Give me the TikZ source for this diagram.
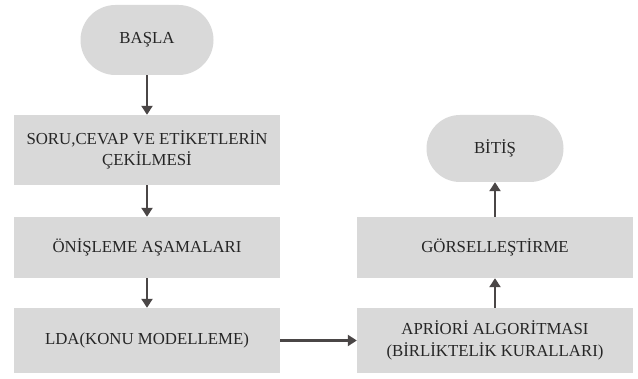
\documentclass[tikz,border=0pt]{standalone}
\usepackage{fontspec}
\setmainfont{Liberation Serif}
\usetikzlibrary{arrows.meta}
\definecolor{boxfill}{HTML}{D9D9D9}
\definecolor{linecol}{HTML}{4A4646}
\definecolor{txtcol}{HTML}{262626}
\begin{document}
\begin{tikzpicture}[x=1pt,y=1pt,
  proc/.style={fill=boxfill,draw=none,minimum width=266pt,inner sep=0pt,align=center,
    text=txtcol,font=\fontsize{16.8}{21.5}\selectfont},
  term/.style={fill=boxfill,draw=none,inner sep=0pt,align=center,
    text=txtcol,font=\fontsize{16.8}{21.5}\selectfont},
  conn/.style={draw=linecol,line width=2.6pt,-{Triangle[width=11pt,length=9pt]}}]
\useasboundingbox[fill=white] (0,0) rectangle (638,378);
\node[term,minimum width=133pt,minimum height=70pt,rounded corners=35pt] (basla) at (147,338) {BAŞLA};
\node[proc,minimum height=70pt] (soru) at (147,228) {SORU,CEVAP VE ETİKETLERİN\\ÇEKİLMESİ};
\node[proc,minimum height=61pt] (onis) at (147,130.5) {ÖNİŞLEME AŞAMALARI};
\node[proc,minimum height=65pt] (lda) at (147,37.5) {LDA(KONU MODELLEME)};
\node[proc,minimum width=276pt,minimum height=65pt] (apr) at (495,37.5) {APRİORİ ALGORİTMASI\\(BİRLİKTELİK KURALLARI)};
\node[proc,minimum width=276pt,minimum height=61pt] (gors) at (495,130.5) {GÖRSELLEŞTİRME};
\node[term,minimum width=137pt,minimum height=67pt,rounded corners=33.5pt] (bitis) at (495,229.5) {BİTİŞ};
\draw[conn] (basla.south) -- (soru.north);
\draw[conn] (soru.south) -- (onis.north);
\draw[conn] (onis.south) -- (lda.north);
\draw[conn] (lda.east) -- (apr.west);
\draw[conn] (apr.north) -- (gors.south);
\draw[conn] (gors.north) -- (bitis.south);
\end{tikzpicture}
\end{document}
